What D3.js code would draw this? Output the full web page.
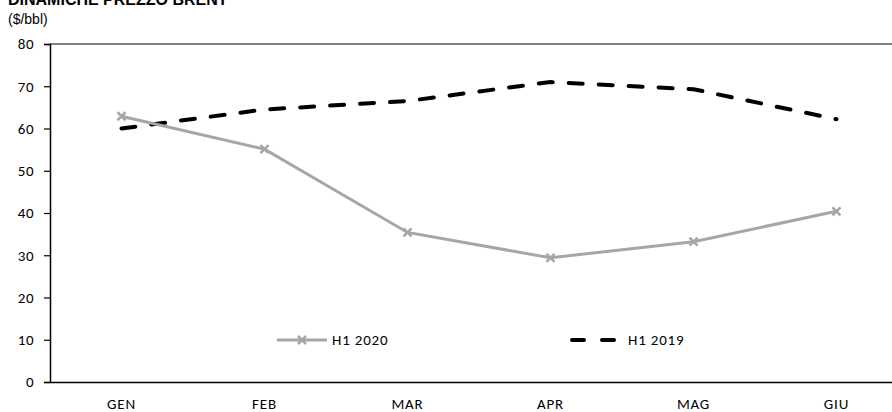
<!DOCTYPE html>
<html>
<head>
<meta charset="utf-8">
<script src="https://cdn.jsdelivr.net/npm/d3@7"></script>
<style>
  html, body { margin: 0; padding: 0; background: #fff; overflow: hidden; }
  svg { display: block; }
</style>
</head>
<body>
<svg id="chart" width="892" height="412"></svg>
<script>
// Brent price, monthly averages ($/bbl), first half of 2020 vs 2019
const months = ["GEN", "FEB", "MAR", "APR", "MAG", "GIU"];
const h1_2020 = [62.9, 55.1, 35.4, 29.4, 33.2, 40.4];
const h1_2019 = [60.0, 64.5, 66.5, 71.0, 69.3, 62.2];
const yTicks = [0, 10, 20, 30, 40, 50, 60, 70, 80];

const svg = d3.select("#chart");
const tickFont = "Calibri, Carlito, 'Open Sans', sans-serif";

const plot = { left: 50, top: 44, right: 908, bottom: 382 };

const x = d3.scaleBand().domain(months).range([plot.left, plot.right]);
const y = d3.scaleLinear().domain([0, 80]).range([plot.bottom, plot.top]);
const cx = m => x(m) + x.bandwidth() / 2;

// Title and unit
svg.append("text").attr("x", 8).attr("y", 5)
  .attr("font-family", "'Liberation Sans', Arial, sans-serif")
  .attr("font-weight", "bold").attr("font-size", 16).attr("fill", "#000")
  .text("DINAMICHE PREZZO BRENT");
svg.append("text").attr("x", 8).attr("y", 24)
  .attr("font-family", "'Liberation Sans', Arial, sans-serif")
  .attr("font-size", 14).attr("fill", "#000")
  .text("($/bbl)");

// Plot frame (top edge)
svg.append("line")
  .attr("x1", plot.left).attr("x2", plot.right)
  .attr("y1", plot.top).attr("y2", plot.top)
  .attr("stroke", "#000").attr("stroke-width", 1.2);

// Y axis
const yAxis = svg.append("g")
  .attr("transform", `translate(${plot.left},0)`)
  .call(d3.axisLeft(y).tickValues(yTicks).tickSize(6).tickPadding(10).tickFormat(d3.format("d")));
yAxis.select(".domain").attr("stroke", "#000").attr("stroke-width", 1.5);
yAxis.selectAll(".tick line").attr("stroke", "#000").attr("stroke-width", 1.2);
yAxis.selectAll(".tick text").attr("font-family", tickFont).attr("font-size", 15)
  .attr("letter-spacing", 0.5).attr("fill", "#000");

// X axis
const xAxis = svg.append("g")
  .attr("transform", `translate(0,${plot.bottom})`)
  .call(d3.axisBottom(x).tickSize(0).tickPadding(16));
xAxis.select(".domain").attr("stroke", "#000").attr("stroke-width", 1.5);
xAxis.selectAll(".tick text").attr("font-family", tickFont).attr("font-size", 15)
  .attr("letter-spacing", 0.8).attr("fill", "#000");

const line = d3.line().x((d, i) => cx(months[i])).y(d => y(d));

// H1 2019: black dashed
svg.append("path").datum(h1_2019)
  .attr("d", line).attr("fill", "none")
  .attr("stroke", "#000").attr("stroke-width", 4)
  .attr("stroke-dasharray", "14 16").attr("stroke-linecap", "round");

// H1 2020: grey line with x markers
const grey = "#a6a6a6";
svg.append("path").datum(h1_2020)
  .attr("d", line).attr("fill", "none")
  .attr("stroke", grey).attr("stroke-width", 3);

function cross(g, px, py, r) {
  g.append("path")
    .attr("d", `M${px - r},${py - r}L${px + r},${py + r}M${px - r},${py + r}L${px + r},${py - r}`)
    .attr("stroke", grey).attr("stroke-width", 2.5).attr("fill", "none");
}
const markers = svg.append("g");
h1_2020.forEach((v, i) => cross(markers, cx(months[i]), y(v), 4));

// Legend
const ly = 340;
const lg = svg.append("g");
lg.append("line").attr("x1", 277).attr("x2", 327).attr("y1", ly).attr("y2", ly)
  .attr("stroke", grey).attr("stroke-width", 3);
cross(lg, 302, ly, 4);
lg.append("text").attr("x", 332).attr("y", ly + 5)
  .attr("font-family", tickFont).attr("font-size", 15).attr("letter-spacing", 0.8)
  .text("H1 2020");

lg.append("line").attr("x1", 572).attr("x2", 618).attr("y1", ly).attr("y2", ly)
  .attr("stroke", "#000").attr("stroke-width", 4)
  .attr("stroke-dasharray", "12 18").attr("stroke-linecap", "round");
lg.append("text").attr("x", 628).attr("y", ly + 5)
  .attr("font-family", tickFont).attr("font-size", 15).attr("letter-spacing", 0.8)
  .text("H1 2019");
</script>
</body>
</html>
